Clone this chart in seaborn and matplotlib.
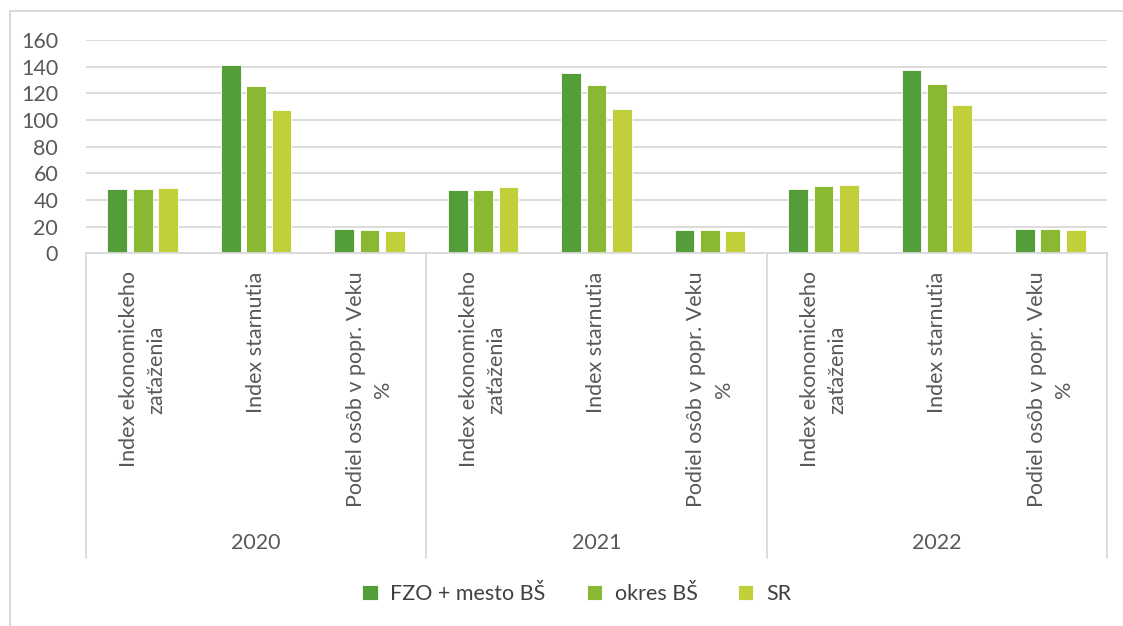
import pandas as pd
import matplotlib.pyplot as plt
import matplotlib.transforms as mtransforms
from matplotlib.lines import Line2D
import seaborn as sns

# data
roky = ["2020", "2021", "2022"]
ukazovatele = ["Index ekonomickeho\nzaťaženia", "Index starnutia", "Podiel osôb v popr. Veku\n%"]
serie = ["FZO + mesto BŠ", "okres BŠ", "SR"]
fzo = [48, 141, 18.3, 47.3, 135.5, 17.8, 48.3, 137.8, 18]
okres = [48, 125.5, 17.8, 47.5, 126, 17.3, 50.3, 127, 18.3]
sr = [49, 107.5, 16.8, 50, 108, 17, 51.3, 111, 17.5]
farby = ["#549E39", "#8AB833", "#C0CF3A"]

kluce = [f"{r}|{u}" for r in roky for u in ukazovatele]
rows = []
for s, vals in zip(serie, [fzo, okres, sr]):
    for k, v in zip(kluce, vals):
        rows.append({"kat": k, "seria": s, "hodnota": v})
df = pd.DataFrame(rows)

sns.set_style("white")
plt.rcParams['font.family'] = ['Lato', 'DejaVu Sans']
sivy = "#595959"
ciara = "#D9D9D9"
fs = 15.5

fig = plt.figure(figsize=(11.23, 6.26), dpi=100)
ax = fig.add_axes([86 / 1123, 1 - 253.3 / 626, 1021 / 1123, 213.3 / 626])

sns.barplot(data=df, x="kat", y="hodnota", hue="seria", order=kluce, hue_order=serie,
            palette=farby, saturation=1, width=0.672, gap=0.223, ax=ax, errorbar=None,
            edgecolor="white", linewidth=0.6)

ax.set_ylim(0, 160)
ax.set_xlim(-0.5, 8.5)
ax.set_yticks(range(0, 161, 20))
ax.yaxis.grid(True, color=ciara, linewidth=1.3)
ax.set_axisbelow(True)
for sp in ["top", "right", "left"]:
    ax.spines[sp].set_visible(False)
ax.spines["bottom"].set_color(ciara)
ax.spines["bottom"].set_linewidth(1.3)
ax.set_xlabel("")
ax.set_ylabel("")
ax.tick_params(axis="y", length=0, pad=20, labelsize=fs, labelcolor=sivy)
ax.set_xticks(range(len(kluce)))
ax.set_xticklabels([k.split("|")[1] for k in kluce], rotation=90, va="top", ha="center",
                   multialignment="center", fontsize=fs, color=sivy, linespacing=1.45)
ax.tick_params(axis="x", length=0, pad=13)

# multi-level category axis: year labels and separators
tr = mtransforms.blended_transform_factory(ax.transData, ax.transAxes)
for i, r in enumerate(roky):
    ax.text(3 * i + 1, -1.358, r, transform=tr, ha="center", va="center", fontsize=fs, color=sivy)
for x in [-0.5, 2.5, 5.5, 8.5]:
    ax.add_line(Line2D([x, x], [0, -1.43], transform=tr, color=ciara, linewidth=1.3, clip_on=False))

handles, labels = ax.get_legend_handles_labels()
ax.get_legend().remove()
fig.legend(handles, labels, loc="center", bbox_to_anchor=(577 / 1123, 1 - 594 / 626), ncol=3,
           frameon=False, fontsize=fs, handlelength=0.7, handleheight=0.7,
           handletextpad=0.6, columnspacing=1.9, labelcolor="#404040")

# chart frame
fig.add_artist(Line2D([10 / 1123, 10 / 1123], [0, 1 - 11 / 626], color=ciara, linewidth=1.5))
fig.add_artist(Line2D([10 / 1123, 1], [1 - 11 / 626, 1 - 11 / 626], color=ciara, linewidth=1.5))

plt.savefig("out.png", dpi=100)
